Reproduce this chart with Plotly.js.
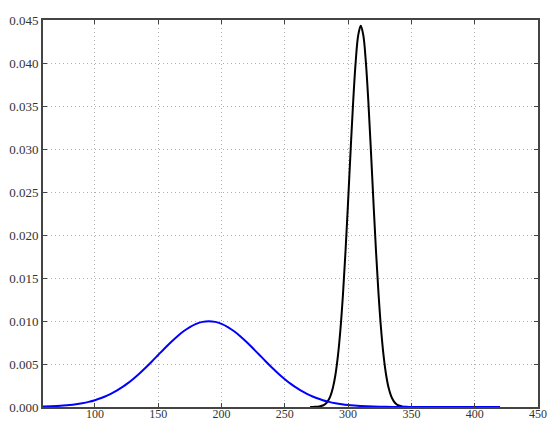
<!DOCTYPE html>
<html>
<head>
<meta charset="utf-8">
<script src="https://cdn.plot.ly/plotly-3.0.1.min.js"></script>
<style>html,body{margin:0;padding:0;background:#fff;}#chart{width:550px;height:423px;}</style>
</head>
<body>
<div id="chart"></div>
<script>
// Blue curve (broad)
const blueX = [55,60,65,70,75,80,85,90,95,100,105,110,115,120,125,130,135,140,145,150,155,160,165,170,175,180,185,190,195,200,205,210,215,220,225,230,235,240,245,250,255,260,265,270,275,280,285,290,295,300,305,310,315,320,325,330,335,340,350,360,370,380,390,400,410,420];
const blueY = [0.0000335,0.0000507,0.0000755,0.0001108,0.0001599,0.0002273,0.0003182,0.0004382,0.0005943,0.0007935,0.0010433,0.0013498,0.0017197,0.0021570,0.0026638,0.0032381,0.0038757,0.0045664,0.0052971,0.0060495,0.0068017,0.0075287,0.0082044,0.0088020,0.0092968,0.0096671,0.0098964,0.0099740,0.0098964,0.0096671,0.0092968,0.0088020,0.0082044,0.0075287,0.0068017,0.0060495,0.0052971,0.0045664,0.0038757,0.0032381,0.0026638,0.0021570,0.0017197,0.0013498,0.0010433,0.0007935,0.0005943,0.0004382,0.0003182,0.0002273,0.0001599,0.0001108,0.0000755,0.0000507,0.0000335,0.0000218,0.0000140,0.0000088,0.0000033,0.0000012,0.0000004,0.0000001,0,0,0,0];
// Black curve (narrow peak)
const blackX = [270,272,274,276,278,280,282,284,286,288,290,292,294,296,298,300,302,304,306,308,310,312,314,316,318,320,322,324,326,328,330,332,334,336,338,340,342,344,346,348,350];
const blackY = [0.0000023,0.0000060,0.0000149,0.0000353,0.0000797,0.000171,0.000351,0.000683,0.001266,0.002234,0.003753,0.005999,0.009129,0.013220,0.018223,0.023910,0.029862,0.035494,0.040157,0.043245,0.044326,0.043245,0.040157,0.035494,0.029862,0.023910,0.018223,0.013220,0.009129,0.005999,0.003753,0.002234,0.001266,0.000683,0.000351,0.000171,0.0000797,0.0000353,0.0000149,0.0000060,0.0000023];
const xTicks = [100,150,200,250,300,350,400,450];
const yTicks = [0,0.005,0.010,0.015,0.020,0.025,0.030,0.035,0.040,0.045];

const traces = [
  {x: blackX, y: blackY, mode: 'lines', line: {color: '#000000', width: 2, shape: 'spline'}, hoverinfo: 'skip'},
  {x: blueX, y: blueY, mode: 'lines', line: {color: '#0000ff', width: 2, shape: 'spline'}, hoverinfo: 'skip'}
];
const axisCommon = {
  showline: true, linecolor: '#444', linewidth: 2, mirror: 'ticks',
  ticks: 'inside', ticklen: 4, tickcolor: '#444', tickwidth: 1,
  showgrid: true, gridcolor: '#b0b0b0', griddash: '1px,3px', gridwidth: 1,
  zeroline: false, tickfont: {family: '"Liberation Serif", "Times New Roman", Times, serif', size: 13, color: '#333'}
};
const layout = {
  width: 550, height: 423,
  margin: {l: 43, r: 12, t: 20, b: 16},
  paper_bgcolor: '#fff', plot_bgcolor: '#fff',
  showlegend: false,
  xaxis: Object.assign({}, axisCommon, {range: [59, 450], tickvals: xTicks, ticktext: xTicks.map(String), ticklabelstandoff: -5, tickfont: {family: '"Liberation Serif", "Times New Roman", Times, serif', size: 12, color: '#333'}}),
  yaxis: Object.assign({}, axisCommon, {range: [0, 0.045], tickvals: yTicks, ticktext: yTicks.map(v => v.toFixed(3))})
};
Plotly.newPlot('chart', traces, layout, {staticPlot: true, displayModeBar: false});
</script>
</body>
</html>
